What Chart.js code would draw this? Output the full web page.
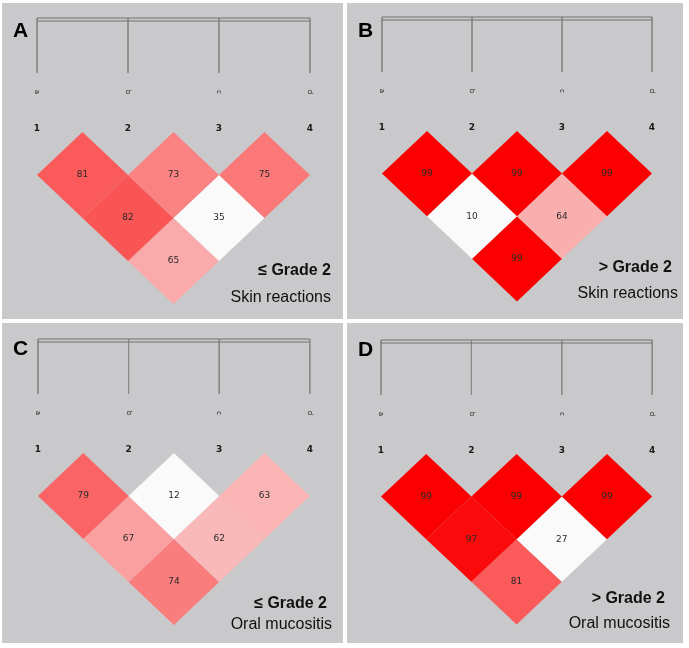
<!DOCTYPE html>
<html>
<head>
<meta charset="utf-8">
<script src="https://cdn.jsdelivr.net/npm/chart.js@4"></script>
<style>
body { margin: 0; background: #fff; }
.panel { position: absolute; background: #c9c8cb; }
canvas { display: block; }
</style>
</head>
<body>
<div class="panel" style="left:2px;top:3px;width:341px;height:316px"><canvas id="cA" width="341" height="316"></canvas></div>
<div class="panel" style="left:347px;top:3px;width:336px;height:316px"><canvas id="cB" width="336" height="316"></canvas></div>
<div class="panel" style="left:2px;top:323px;width:341px;height:320px"><canvas id="cC" width="341" height="320"></canvas></div>
<div class="panel" style="left:347px;top:323px;width:336px;height:320px"><canvas id="cD" width="336" height="320"></canvas></div>
<script>
// markers and pairwise D' values (pairs listed in the same order for each panel)
const markers = [1, 2, 3, 4];
const snpNames = ['a', 'b', 'c', 'd'];
const pairs = [[1, 2], [2, 3], [3, 4], [1, 3], [2, 4], [1, 4]];
const valuesA = [81, 73, 75, 82, 35, 65];
const valuesB = [99, 99, 99, 10, 64, 99];
const valuesC = [79, 12, 63, 67, 62, 74];
const valuesD = [99, 99, 99, 97, 27, 81];
const panelLetters = ['A', 'B', 'C', 'D'];
const gradeLabels = ['≤ Grade 2', '> Grade 2', '≤ Grade 2', '> Grade 2'];
const traitLabels = ['Skin reactions', 'Skin reactions', 'Oral mucositis', 'Oral mucositis'];

function ldColor(v) {
    var g = Math.max(0, Math.min(250, 5 * (99 - v)));
    return 'rgb(250,' + g + ',' + g + ')';
}

function makePanel(id, idx, values, lay) {
    const canvas = document.getElementById(id);
    const W = canvas.width, H = canvas.height;
    const px = 1 / lay.rowH; // one pixel in y units
    const yTop = -114 * px, yTickEnd = -59 * px;
    var datasets = [];

    // header bar (double line) and marker ticks
    [yTop, yTop + 3 * px].forEach(y => {
        datasets.push({ data: [{x: markers[0], y: y}, {x: markers[markers.length - 1], y: y}],
            borderColor: '#707070', borderWidth: 1, fill: false, pointRadius: 0 });
    });
    markers.forEach(m => {
        datasets.push({ data: [{x: m, y: yTop}, {x: m, y: yTickEnd}],
            borderColor: '#8a8a8a', borderWidth: 1, fill: false, pointRadius: 0 });
    });

    // diamonds
    pairs.forEach((p, k) => {
        const cx = (p[0] + p[1]) / 2, cy = p[1] - p[0];
        datasets.push({
            data: [{x: cx - 0.5, y: cy}, {x: cx, y: cy - 1}, {x: cx + 0.5, y: cy}, {x: cx, y: cy + 1}, {x: cx - 0.5, y: cy}],
            backgroundColor: ldColor(values[k]), borderColor: 'rgba(0,0,0,0)', borderWidth: 0,
            fill: 'shape', pointRadius: 0, tension: 0
        });
    });

    const textPlugin = {
        id: 'ldText' + idx,
        afterDatasetsDraw(chart) {
            const ctx = chart.ctx, xs = chart.scales.x, ys = chart.scales.y;
            const y0 = ys.getPixelForValue(0);
            ctx.save();
            ctx.fillStyle = '#2a2a2a';
            ctx.textAlign = 'center';
            ctx.textBaseline = 'middle';
            ctx.font = '9px "DejaVu Sans"';
            pairs.forEach((p, k) => {
                ctx.fillText(values[k], xs.getPixelForValue((p[0] + p[1]) / 2), ys.getPixelForValue(p[1] - p[0]));
            });
            ctx.fillStyle = '#1a1a1a';
            ctx.font = 'bold 9px "DejaVu Sans"';
            markers.forEach(m => ctx.fillText(m, xs.getPixelForValue(m), y0 - 3));
            ctx.font = '7px "DejaVu Sans"';
            snpNames.forEach((s, k) => {
                ctx.save();
                ctx.translate(xs.getPixelForValue(markers[k]), y0 - 40);
                ctx.rotate(Math.PI / 2);
                ctx.fillText(s, 0, 0);
                ctx.restore();
            });
            ctx.fillStyle = '#000';
            ctx.textAlign = 'left';
            ctx.textBaseline = 'alphabetic';
            ctx.font = 'bold 21px "Liberation Sans"';
            ctx.fillText(panelLetters[idx], 11, lay.letterY);
            ctx.textAlign = 'right';
            ctx.fillStyle = '#111';
            ctx.font = 'bold 16px "Liberation Sans"';
            ctx.fillText(gradeLabels[idx], lay.gradeX, lay.gradeY);
            ctx.font = '16px "Liberation Sans"';
            ctx.fillText(traitLabels[idx], lay.traitX, lay.traitY);
            ctx.restore();
        }
    };

    const xMin = markers[0] - lay.x0 / lay.sp;
    const yMin = -lay.y0 / lay.rowH;
    new Chart(canvas.getContext('2d'), {
        type: 'line',
        data: { datasets: datasets },
        options: {
            responsive: false,
            animation: false,
            layout: { padding: 0 },
            scales: {
                x: { type: 'linear', display: false, min: xMin, max: xMin + W / lay.sp },
                y: { type: 'linear', display: false, reverse: true, min: yMin, max: yMin + H / lay.rowH }
            },
            plugins: { legend: { display: false }, tooltip: { enabled: false } },
            events: []
        },
        plugins: [textPlugin]
    });
}

makePanel('cA', 0, valuesA, {x0: 35, sp: 91, y0: 129, rowH: 43, letterY: 34, gradeX: 329, gradeY: 272, traitX: 329, traitY: 299});
makePanel('cB', 1, valuesB, {x0: 35, sp: 90, y0: 128, rowH: 42.6, letterY: 34, gradeX: 325, gradeY: 269, traitX: 331, traitY: 295});
makePanel('cC', 2, valuesC, {x0: 36, sp: 90.6, y0: 130, rowH: 43, letterY: 32, gradeX: 325, gradeY: 285, traitX: 330, traitY: 306});
makePanel('cD', 3, valuesD, {x0: 34, sp: 90.4, y0: 131, rowH: 42.6, letterY: 33, gradeX: 318, gradeY: 280, traitX: 323, traitY: 305});
</script>
</body>
</html>
